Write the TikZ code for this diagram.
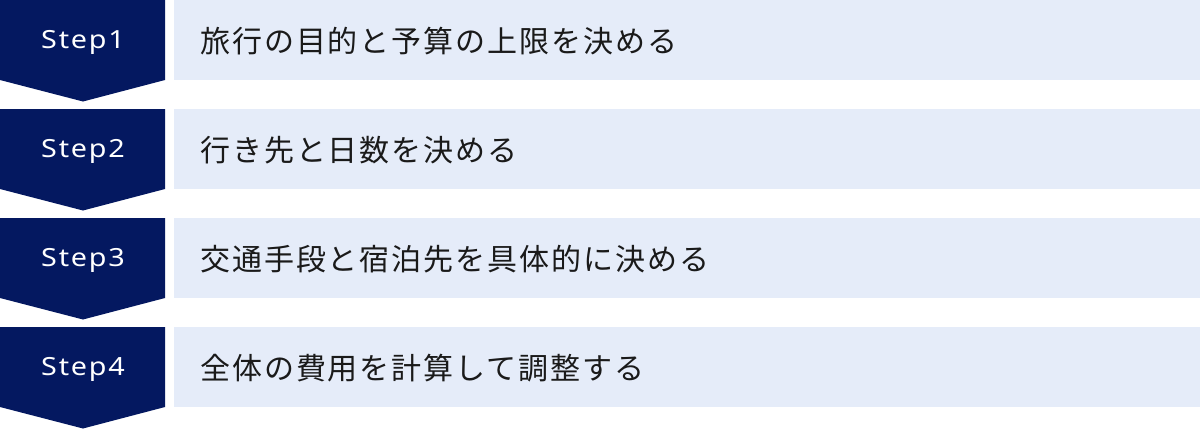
\documentclass[tikz,border=0pt]{standalone}
\usepackage{fontspec}
\setmainfont{Noto Sans CJK JP}
\newfontfamily\stepfont[LetterSpace=7,FakeStretch=1.15]{Noto Sans}
\newfontfamily\jpfont[LetterSpace=6.5]{Noto Sans CJK JP}
\definecolor{navy}{RGB}{4,24,96}
\definecolor{lightbg}{RGB}{229,236,249}
\definecolor{txt}{RGB}{26,26,26}
\tikzset{
  stepshape/.style={fill=navy, draw=none},
  barshape/.style={fill=lightbg, draw=none},
  steplabel/.style={text=white, inner sep=0pt, anchor=base, font=\stepfont\fontsize{25}{25}\selectfont},
  barlabel/.style={text=txt, inner sep=0pt, anchor=base west, font=\jpfont\fontsize{30}{30}\selectfont},
}
\begin{document}
\begin{tikzpicture}[x=1pt,y=-1pt]
\useasboundingbox (0,0) rectangle (1200,429);
\foreach \i/\t in {0/旅行の目的と予算の上限を決める,1/行き先と日数を決める,2/交通手段と宿泊先を具体的に決める,3/全体の費用を計算して調整する}{
  \pgfmathsetmacro{\top}{109*\i}
  \pgfmathtruncatemacro{\n}{\i+1}
  \fill[stepshape] (0,\top) -- (165,\top) -- (165,\top+80) -- (83,\top+101.5) -- (0,\top+80) -- cycle;
  \fill[barshape] (174,\top) rectangle (1200,\top+80);
  \node[steplabel] (step\n) at (83,\top+48) {Step\n};
  \node[barlabel] (text\n) at (200,\top+52) {\t};
}
\end{tikzpicture}
\end{document}
